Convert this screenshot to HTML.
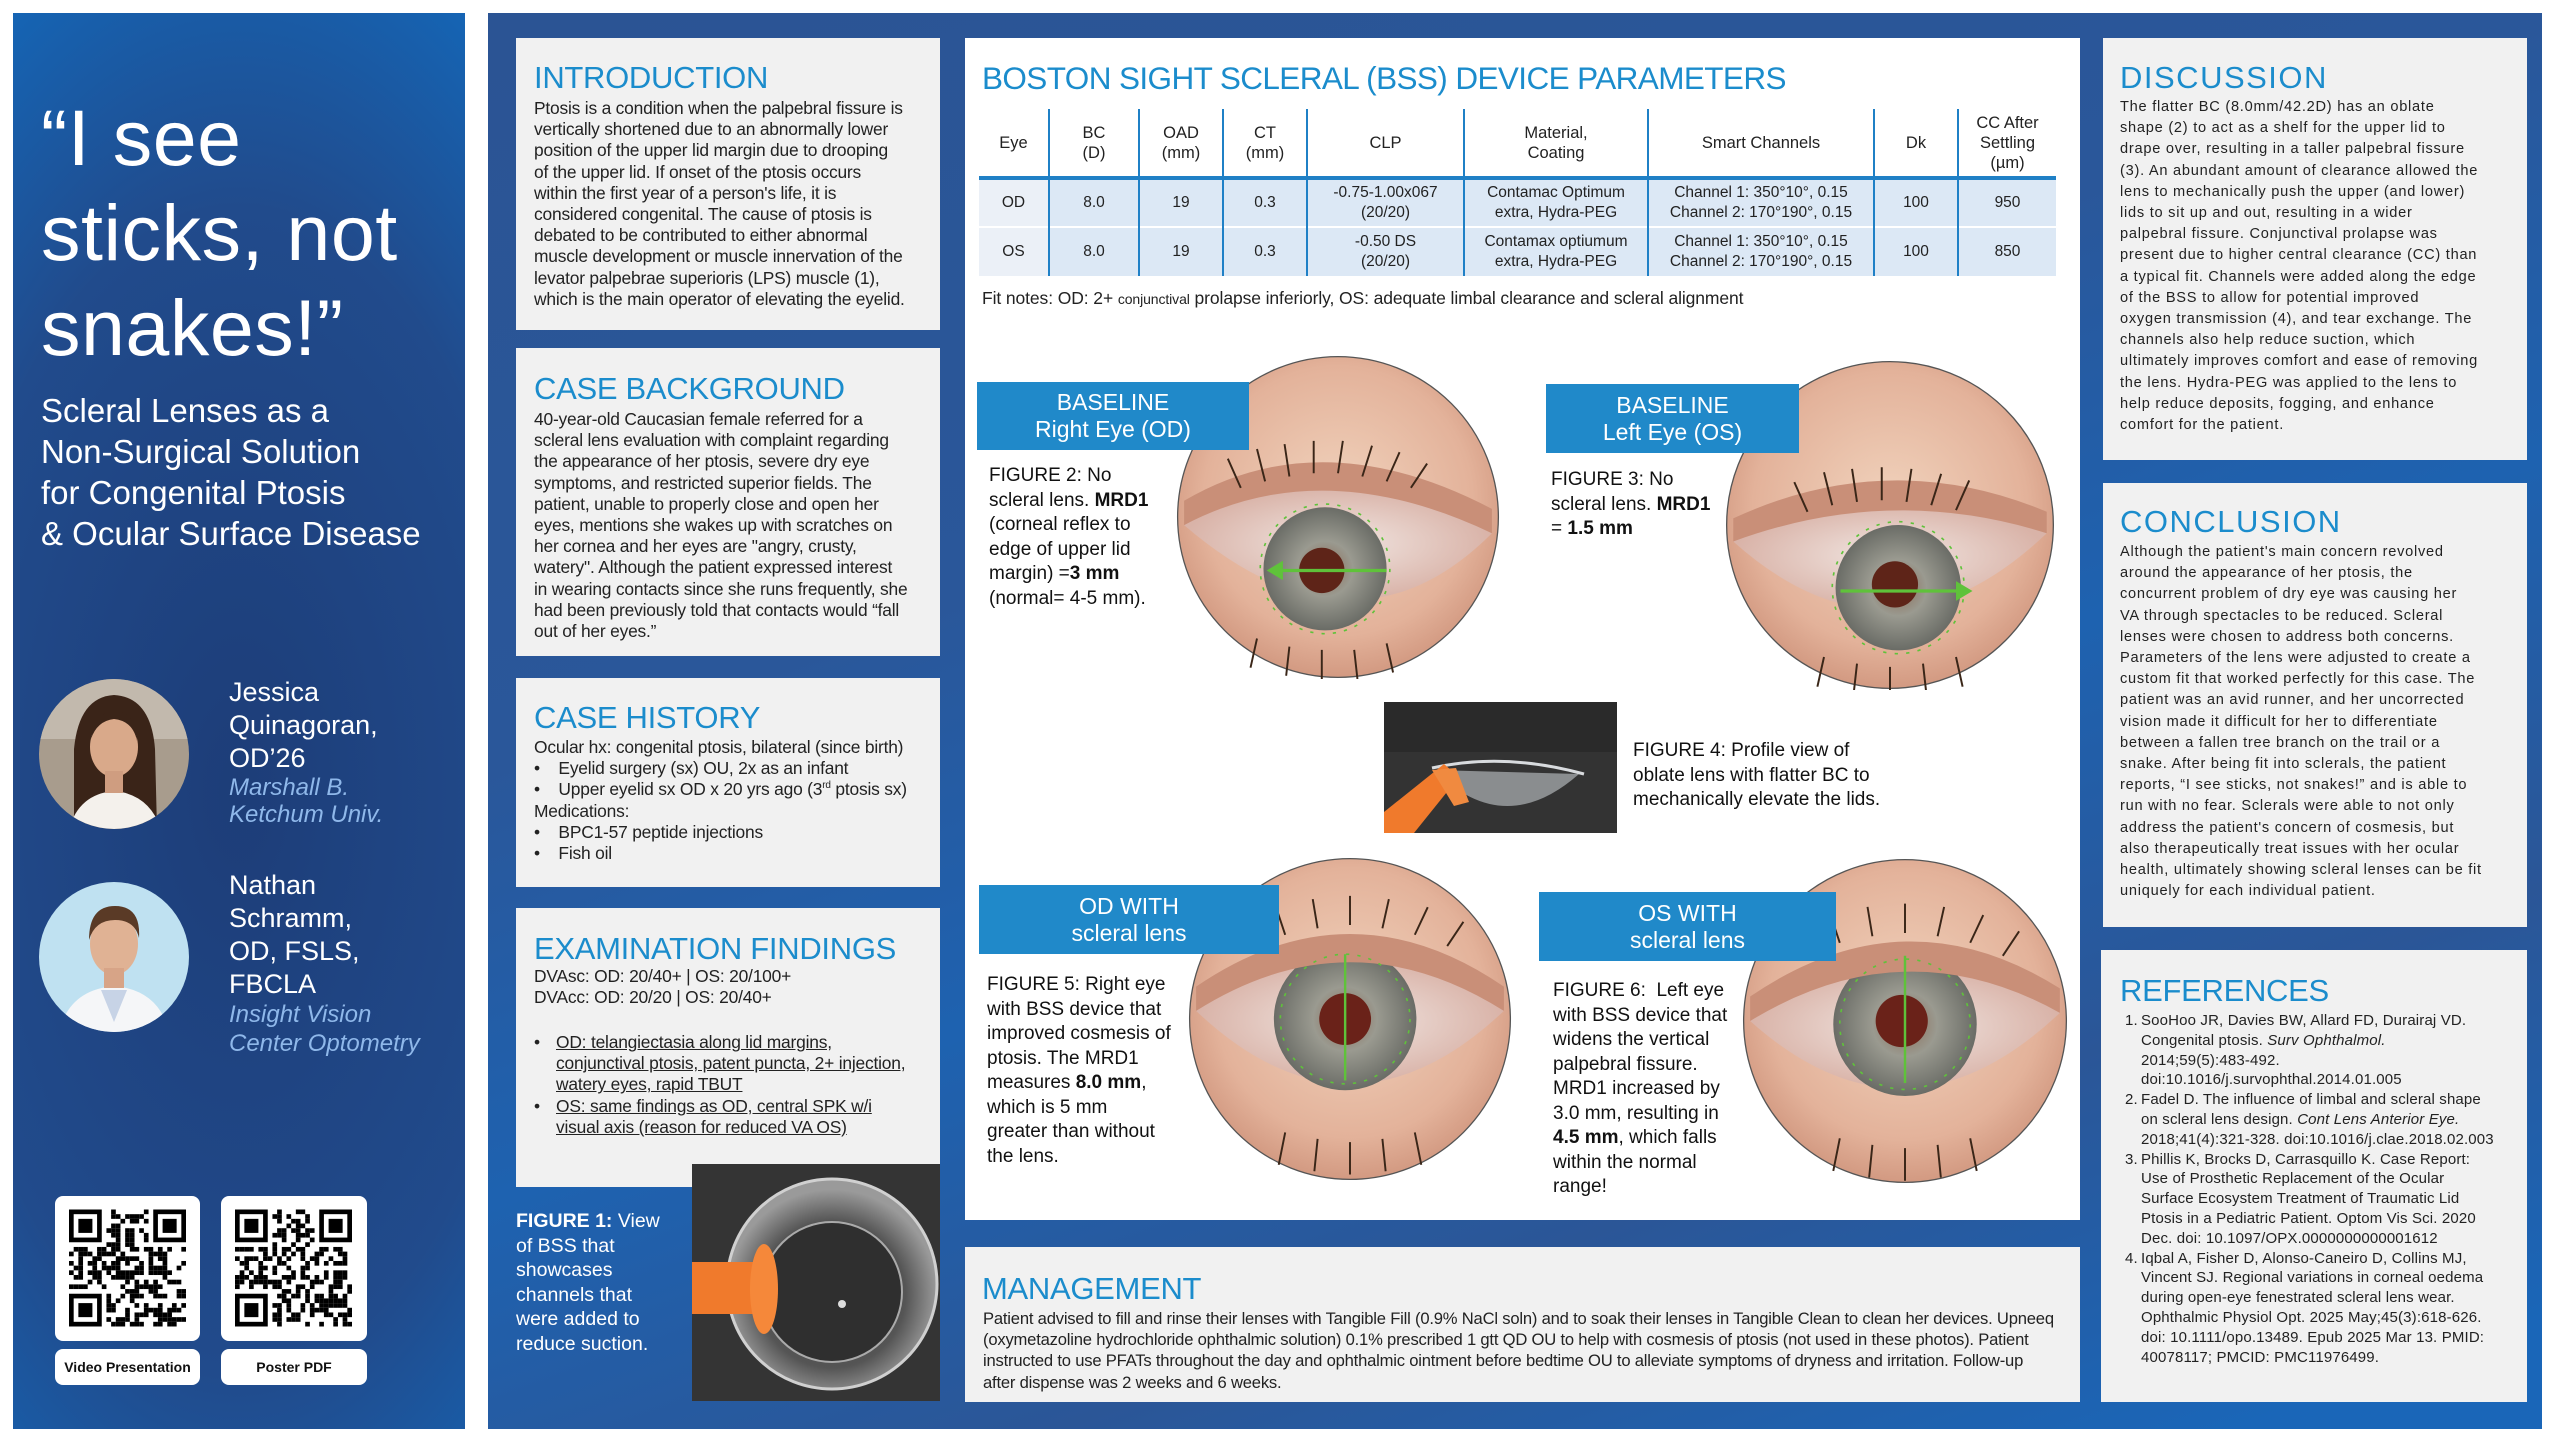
<!DOCTYPE html>
<html><head><meta charset="utf-8"><style>
*{margin:0;padding:0;box-sizing:border-box}
body{width:2560px;height:1440px;background:#fff;position:relative;overflow:hidden;font-family:"Liberation Sans",sans-serif;color:#222}
.a{position:absolute}
.box{position:absolute;background:#f1f1f1}
.h{position:absolute;color:#1b8ccc;font-size:31px;line-height:34px;white-space:nowrap;letter-spacing:-0.3px}
.t{position:absolute;white-space:nowrap;font-size:17.4px;line-height:21.2px;color:#222;letter-spacing:-0.2px}
.w{position:absolute;white-space:nowrap;color:#fff}
.lbl{position:absolute;background:#2089c9;color:#fff;text-align:center;font-size:23px;line-height:27px;display:flex;flex-direction:column;justify-content:center}
.fig{position:absolute;white-space:nowrap;font-size:19px;line-height:24.5px;color:#111}
table{border-collapse:collapse}
td,th{font-weight:normal;font-size:15.5px;line-height:20px;text-align:center;color:#222}
th{font-size:16.5px}
.ds{position:absolute;white-space:nowrap;font-size:14.6px;line-height:21.2px;letter-spacing:0.75px;color:#222}
.rf{position:absolute;white-space:nowrap;font-size:15px;line-height:19.8px;letter-spacing:0.15px;color:#222}
</style></head><body>

<!-- LEFT PANEL -->
<div class="a" style="left:13px;top:13px;width:452px;height:1416px;background:radial-gradient(ellipse 120% 75% at 50% 55%,#1d3d78 0%,#214b8c 55%,#1565b5 85%,#0b72c8 100%)"></div>
<div class="w" style="left:41px;top:90px;font-size:79px;line-height:95px;letter-spacing:0.5px">“I see<br>sticks, not<br>snakes!”</div>
<div class="w" style="left:41px;top:390px;font-size:33px;line-height:41px">Scleral Lenses as a<br>Non-Surgical Solution<br>for Congenital Ptosis<br>&amp; Ocular Surface Disease</div>

<svg class="a" style="left:39px;top:679px" width="150" height="150" viewBox="0 0 150 150">
<defs><clipPath id="c1"><circle cx="75" cy="75" r="75"/></clipPath></defs>
<g clip-path="url(#c1)"><rect width="150" height="150" fill="#a89c8d"/><rect y="0" width="150" height="60" fill="#c2b9ad"/>
<path d="M35 150 L35 70 Q40 18 75 16 Q112 18 116 70 L118 150Z" fill="#3a2418"/>
<path d="M30 150 Q40 115 75 112 Q110 115 122 150Z" fill="#f4f1ec"/>
<ellipse cx="75" cy="68" rx="24" ry="30" fill="#d9a98a"/><rect x="66" y="92" width="18" height="22" fill="#cf9d80"/>
<path d="M52 60 Q58 30 78 32 Q96 34 98 62 Q94 42 75 40 Q58 42 52 60Z" fill="#3a2418"/></g></svg>
<svg class="a" style="left:39px;top:882px" width="150" height="150" viewBox="0 0 150 150">
<defs><clipPath id="c2"><circle cx="75" cy="75" r="75"/></clipPath></defs>
<g clip-path="url(#c2)"><rect width="150" height="150" fill="#bfe1f1"/>
<path d="M20 150 Q30 108 75 104 Q120 108 130 150Z" fill="#f5f6f8"/><path d="M62 108 L75 140 L88 108Z" fill="#c7d3e6"/>
<ellipse cx="75" cy="62" rx="24" ry="31" fill="#e0b294"/><rect x="65" y="86" width="20" height="20" fill="#d7a487"/>
<path d="M50 58 Q50 24 76 24 Q102 24 100 56 Q96 38 76 38 Q56 38 50 58Z" fill="#5a3a26"/></g></svg>

<div class="w" style="left:229px;top:676px;font-size:27px;line-height:33px">Jessica<br>Quinagoran,<br>OD’26</div>
<div class="w" style="left:229px;top:774px;font-size:24px;line-height:27px;font-style:italic;color:#8fb8ea">Marshall B.<br>Ketchum Univ.</div>
<div class="w" style="left:229px;top:869px;font-size:27px;line-height:33px">Nathan<br>Schramm,<br>OD, FSLS,<br>FBCLA</div>
<div class="w" style="left:229px;top:1000px;font-size:24px;line-height:29px;font-style:italic;color:#8fb8ea">Insight Vision<br>Center Optometry</div>

<div class="a" style="left:55px;top:1196px;width:145px;height:145px;background:#fff;border-radius:8px"></div>
<div class="a" style="left:221px;top:1196px;width:146px;height:145px;background:#fff;border-radius:8px"></div>
<svg class="a" id="qr1" style="left:69px;top:1209px" width="117" height="118" viewBox="0 0 25 25"></svg>
<svg class="a" id="qr2" style="left:235px;top:1209px" width="117" height="118" viewBox="0 0 25 25"></svg>
<div class="a" style="left:55px;top:1349px;width:145px;height:36px;background:#fff;border-radius:8px;font-weight:bold;font-size:14px;line-height:36px;text-align:center;color:#111">Video Presentation</div>
<div class="a" style="left:221px;top:1349px;width:146px;height:36px;background:#fff;border-radius:8px;font-weight:bold;font-size:14px;line-height:36px;text-align:center;color:#111">Poster PDF</div>

<!-- MAIN PANEL -->
<div class="a" style="left:488px;top:13px;width:2054px;height:1416px;background:linear-gradient(160deg,#2b5494 0%,#2a579a 35%,#1e62b0 55%,#2b5697 75%,#1a66b8 95%)"></div>

<!-- Intro -->
<div class="box" style="left:516px;top:38px;width:424px;height:292px"></div>
<div class="h" style="left:534px;top:61px">INTRODUCTION</div>
<div class="t" style="left:534px;top:98px">Ptosis is a condition when the palpebral fissure is<br>vertically shortened due to an abnormally lower<br>position of the upper lid margin due to drooping<br>of the upper lid. If onset of the ptosis occurs<br>within the first year of a person's life, it is<br>considered congenital. The cause of ptosis is<br>debated to be contributed to either abnormal<br>muscle development or muscle innervation of the<br>levator palpebrae superioris (LPS) muscle (1),<br>which is the main operator of elevating the eyelid.</div>

<!-- Case background -->
<div class="box" style="left:516px;top:348px;width:424px;height:308px"></div>
<div class="h" style="left:534px;top:372px">CASE BACKGROUND</div>
<div class="t" style="left:534px;top:409px">40-year-old Caucasian female referred for a<br>scleral lens evaluation with complaint regarding<br>the appearance of her ptosis, severe dry eye<br>symptoms, and restricted superior fields. The<br>patient, unable to properly close and open her<br>eyes, mentions she wakes up with scratches on<br>her cornea and her eyes are "angry, crusty,<br>watery". Although the patient expressed interest<br>in wearing contacts since she runs frequently, she<br>had been previously told that contacts would “fall<br>out of her eyes.”</div>

<!-- Case history -->
<div class="box" style="left:516px;top:678px;width:424px;height:209px"></div>
<div class="h" style="left:534px;top:701px">CASE HISTORY</div>
<div class="t" style="left:534px;top:737px">Ocular hx: congenital ptosis, bilateral (since birth)<br>•&nbsp;&nbsp;&nbsp; Eyelid surgery (sx) OU, 2x as an infant<br>•&nbsp;&nbsp;&nbsp; Upper eyelid sx OD x 20 yrs ago (3<sup style="font-size:10px;line-height:0">rd</sup> ptosis sx)<br>Medications:<br>•&nbsp;&nbsp;&nbsp; BPC1-57 peptide injections<br>•&nbsp;&nbsp;&nbsp; Fish oil</div>

<!-- Exam -->
<div class="box" style="left:516px;top:908px;width:424px;height:279px"></div>
<div class="h" style="left:534px;top:932px">EXAMINATION FINDINGS</div>
<div class="t" style="left:534px;top:966px">DVAsc: OD: 20/40+ | OS: 20/100+<br>DVAcc: OD: 20/20 | OS: 20/40+</div>
<div class="t" style="left:534px;top:1032px">•</div>
<div class="t" style="left:556px;top:1032px;text-decoration:underline">OD: telangiectasia along lid margins,<br>conjunctival ptosis, patent puncta, 2+ injection,<br>watery eyes, rapid TBUT</div>
<div class="t" style="left:534px;top:1096px">•</div>
<div class="t" style="left:556px;top:1096px;text-decoration:underline">OS: same findings as OD, central SPK w/i<br>visual axis (reason for reduced VA OS)</div>

<!-- Figure 1 -->
<div class="w" style="left:516px;top:1209px;font-size:19.5px;line-height:24.6px"><b>FIGURE 1:</b> View<br>of BSS that<br>showcases<br>channels that<br>were added to<br>reduce suction.</div>
<svg class="a" style="left:692px;top:1164px" width="248" height="237" viewBox="0 0 248 237">
<defs><radialGradient id="lg1" cx="0.5" cy="0.55" r="0.5"><stop offset="0" stop-color="#3a3a3a"/><stop offset="0.7" stop-color="#555"/><stop offset="1" stop-color="#9a9a9a"/></radialGradient></defs>
<rect width="248" height="237" fill="#343434"/>
<circle cx="140" cy="120" r="105" fill="url(#lg1)" stroke="#d0d0d0" stroke-width="3"/>
<circle cx="140" cy="128" r="70" fill="#2f2f2f" stroke="#aaa" stroke-width="2"/>
<rect x="0" y="98" width="70" height="52" fill="#f07a2c"/>
<ellipse cx="72" cy="125" rx="14" ry="45" fill="#f5883a"/>
<circle cx="150" cy="140" r="4" fill="#ddd"/></svg>

<!-- CENTER WHITE PANEL -->
<div class="a" style="left:965px;top:38px;width:1115px;height:1182px;background:#fff"></div>
<div class="h" style="left:982px;top:61px;font-size:31.5px;letter-spacing:-0.6px">BOSTON SIGHT SCLERAL (BSS) DEVICE PARAMETERS</div>

<table class="a" style="left:979px;top:109px;width:1077px">
<colgroup><col style="width:70px"><col style="width:90px"><col style="width:84px"><col style="width:84px"><col style="width:157px"><col style="width:184px"><col style="width:226px"><col style="width:84px"><col style="width:98px"></colgroup>
<tr style="height:69px;border-bottom:4px solid #1f80c6">
<th>Eye</th><th style="border-left:2px solid #1f80c6">BC<br>(D)</th><th style="border-left:2px solid #1f80c6">OAD<br>(mm)</th><th style="border-left:2px solid #1f80c6">CT<br>(mm)</th><th style="border-left:2px solid #1f80c6">CLP</th><th style="border-left:2px solid #1f80c6">Material,<br>Coating</th><th style="border-left:2px solid #1f80c6">Smart Channels</th><th style="border-left:2px solid #1f80c6">Dk</th><th style="border-left:2px solid #1f80c6">CC After<br>Settling<br>(µm)</th></tr>
<tr style="height:49px;background:#dce8f5;border-bottom:2px solid #fff">
<td style="background:#ebf0f7">OD</td><td style="border-left:2px solid #1f80c6">8.0</td><td style="border-left:2px solid #1f80c6">19</td><td style="border-left:2px solid #1f80c6">0.3</td><td style="border-left:2px solid #1f80c6">-0.75-1.00x067<br>(20/20)</td><td style="border-left:2px solid #1f80c6">Contamac Optimum<br>extra, Hydra-PEG</td><td style="border-left:2px solid #1f80c6">Channel 1: 350°10°, 0.15<br>Channel 2: 170°190°, 0.15</td><td style="border-left:2px solid #1f80c6">100</td><td style="border-left:2px solid #1f80c6">950</td></tr>
<tr style="height:49px;background:#dce8f5">
<td style="background:#ebf0f7">OS</td><td style="border-left:2px solid #1f80c6">8.0</td><td style="border-left:2px solid #1f80c6">19</td><td style="border-left:2px solid #1f80c6">0.3</td><td style="border-left:2px solid #1f80c6">-0.50 DS<br>(20/20)</td><td style="border-left:2px solid #1f80c6">Contamax optiumum<br>extra, Hydra-PEG</td><td style="border-left:2px solid #1f80c6">Channel 1: 350°10°, 0.15<br>Channel 2: 170°190°, 0.15</td><td style="border-left:2px solid #1f80c6">100</td><td style="border-left:2px solid #1f80c6">850</td></tr>
</table>
<div class="t" style="left:982px;top:287px;font-size:17.5px;line-height:22px;letter-spacing:-0.1px">Fit notes: OD: 2+ <span style="font-size:14px">conjunctival</span> prolapse inferiorly, OS: adequate limbal clearance and scleral alignment</div>

<svg width="0" height="0" style="position:absolute"><defs>
<radialGradient id="skin" cx="0.5" cy="0.45" r="0.6"><stop offset="0" stop-color="#f1d3bd"/><stop offset="0.7" stop-color="#e3b29a"/><stop offset="1" stop-color="#cc9078"/></radialGradient>
<radialGradient id="iris" cx="0.5" cy="0.5" r="0.5"><stop offset="0" stop-color="#8a6a55"/><stop offset="0.45" stop-color="#9a9a90"/><stop offset="1" stop-color="#6a6c66"/></radialGradient>
<radialGradient id="scl" cx="0.5" cy="0.5" r="0.5"><stop offset="0" stop-color="#f1e6e2"/><stop offset="1" stop-color="#d9b3a8"/></radialGradient>
</defs></svg>

<!-- Fig 2 eye -->
<svg class="a" style="left:1176px;top:355px" width="324" height="324" viewBox="-100 -100 200 200">
<circle r="99" fill="url(#skin)" stroke="#555" stroke-width="0.8"/>
<path d="M-95 5 Q-10 -45 95 10 Q10 95 -95 5Z" fill="url(#scl)"/>
<circle cx="-8" cy="32" r="38" fill="url(#iris)"/><circle cx="-10" cy="33" r="14" fill="#5e2418"/>
<path d="M-95 5 Q-10 -40 95 10 L95 -5 Q-10 -60 -95 -10Z" fill="#c98f78"/>
<g stroke="#3a2618" stroke-width="1.2"><path d="M-60 -18 l-8 -18 M-45 -22 l-5 -20 M-30 -25 l-3 -20 M-15 -27 l0 -20 M0 -27 l3 -20 M15 -25 l6 -19 M30 -22 l8 -18 M45 -18 l10 -15 M-50 75 l-4 18 M-30 80 l-2 18 M-10 82 l0 18 M10 82 l2 18 M30 78 l4 18"/></g>
<path d="M-40 33 L30 33" stroke="#5fc23a" stroke-width="2"/><path d="M-44 33 l10 -6 v12z" fill="#5fc23a"/>
<circle cx="-8" cy="32" r="40" fill="none" stroke="#5fc23a" stroke-width="1" stroke-dasharray="2 5"/></svg>
<div class="lbl" style="left:977px;top:382px;width:272px;height:68px">BASELINE<br>Right Eye (OD)</div>
<div class="fig" style="left:989px;top:464px">FIGURE 2: No<br>scleral lens. <b>MRD1</b><br>(corneal reflex to<br>edge of upper lid<br>margin) =<b>3 mm</b><br>(normal= 4-5 mm).</div>

<!-- Fig 3 eye -->
<svg class="a" style="left:1725px;top:360px" width="330" height="330" viewBox="-100 -100 200 200">
<circle r="99" fill="url(#skin)" stroke="#555" stroke-width="0.8"/>
<path d="M-95 10 Q0 -35 95 5 Q0 95 -95 10Z" fill="url(#scl)"/>
<circle cx="5" cy="38" r="38" fill="url(#iris)"/><circle cx="3" cy="36" r="14" fill="#5e2418"/>
<path d="M-95 10 Q0 -25 95 5 L95 -8 Q0 -48 -95 -4Z" fill="#c98f78"/>
<g stroke="#3a2618" stroke-width="1.2"><path d="M-50 -8 l-8 -18 M-35 -12 l-5 -20 M-20 -14 l-3 -20 M-5 -15 l0 -20 M10 -14 l3 -20 M25 -12 l6 -19 M40 -9 l8 -18 M-40 80 l-4 18 M-20 84 l-2 18 M0 86 l0 18 M20 84 l2 18 M40 80 l4 18"/></g>
<path d="M-30 40 L45 40" stroke="#5fc23a" stroke-width="2"/><path d="M50 40 l-10 -6 v12z" fill="#5fc23a"/>
<circle cx="5" cy="38" r="40" fill="none" stroke="#5fc23a" stroke-width="1" stroke-dasharray="2 5"/></svg>
<div class="lbl" style="left:1546px;top:384px;width:253px;height:69px">BASELINE<br>Left Eye (OS)</div>
<div class="fig" style="left:1551px;top:468px">FIGURE 3: No<br>scleral lens. <b>MRD1</b><br>= <b>1.5 mm</b></div>

<!-- Fig 4 -->
<svg class="a" style="left:1384px;top:702px" width="233" height="131" viewBox="0 0 233 131">
<rect width="233" height="131" fill="#333"/><rect y="0" width="233" height="50" fill="#2a2a2a"/>
<path d="M50 68 Q120 138 195 72 Z" fill="#9a9da0" opacity="0.85"/>
<path d="M48 66 Q120 50 200 72" stroke="#d8dbde" stroke-width="3" fill="none"/>
<path d="M0 131 L0 110 L60 62 L75 75 L30 131Z" fill="#f07a2c"/>
<path d="M48 68 L72 66 L85 100 L70 104Z" fill="#f08a40"/></svg>
<div class="fig" style="left:1633px;top:739px">FIGURE 4: Profile view of<br>oblate lens with flatter BC to<br>mechanically elevate the lids.</div>

<!-- Fig 5 -->
<svg class="a" style="left:1188px;top:856px" width="324" height="326" viewBox="-100 -100 200 200">
<circle r="99" fill="url(#skin)" stroke="#555" stroke-width="0.8"/>
<path d="M-95 -5 Q0 -70 95 -5 Q0 85 -95 -5Z" fill="url(#scl)"/>
<circle cx="-3" cy="0" r="44" fill="url(#iris)"/><circle cx="-3" cy="0" r="16" fill="#6a2219"/>
<path d="M-95 -5 Q0 -65 95 -5 L95 -20 Q0 -85 -95 -20Z" fill="#c98f78"/>
<g stroke="#3a2618" stroke-width="1.2"><path d="M-60 -45 l-10 -16 M-40 -52 l-6 -18 M-20 -56 l-3 -18 M0 -58 l0 -18 M20 -56 l4 -18 M40 -52 l8 -17 M60 -45 l10 -15 M-40 70 l-4 20 M-20 74 l-2 20 M0 76 l0 20 M20 74 l2 20 M40 70 l4 20"/></g>
<path d="M-3 -40 L-3 38" stroke="#5fc23a" stroke-width="1.5"/><circle cx="-3" cy="0" r="40" fill="none" stroke="#5fc23a" stroke-width="1" stroke-dasharray="2 5"/></svg>
<div class="lbl" style="left:979px;top:885px;width:300px;height:69px">OD WITH<br>scleral lens</div>
<div class="fig" style="left:987px;top:973px">FIGURE 5: Right eye<br>with BSS device that<br>improved cosmesis of<br>ptosis. The MRD1<br>measures <b>8.0 mm</b>,<br>which is 5 mm<br>greater than without<br>the lens.</div>

<!-- Fig 6 -->
<svg class="a" style="left:1742px;top:855px" width="326" height="332" viewBox="-100 -100 200 200">
<circle r="99" fill="url(#skin)" stroke="#555" stroke-width="0.8"/>
<path d="M-95 0 Q0 -65 95 -5 Q0 85 -95 0Z" fill="url(#scl)"/>
<circle cx="0" cy="2" r="44" fill="url(#iris)"/><circle cx="-2" cy="0" r="16" fill="#6a2219"/>
<path d="M-95 0 Q0 -58 95 -5 L95 -20 Q0 -80 -95 -15Z" fill="#c98f78"/>
<g stroke="#3a2618" stroke-width="1.2"><path d="M-60 -40 l-10 -16 M-40 -48 l-6 -18 M-20 -52 l-3 -18 M0 -54 l0 -18 M20 -52 l4 -18 M40 -48 l8 -17 M60 -40 l10 -15 M-40 72 l-4 20 M-20 76 l-2 20 M0 78 l0 20 M20 76 l2 20 M40 72 l4 20"/></g>
<path d="M0 -40 L0 38" stroke="#5fc23a" stroke-width="1.5"/><circle cx="0" cy="2" r="40" fill="none" stroke="#5fc23a" stroke-width="1" stroke-dasharray="2 5"/></svg>
<div class="lbl" style="left:1539px;top:892px;width:297px;height:69px">OS WITH<br>scleral lens</div>
<div class="fig" style="left:1553px;top:979px">FIGURE 6:&nbsp; Left eye<br>with BSS device that<br>widens the vertical<br>palpebral fissure.<br>MRD1 increased by<br>3.0 mm, resulting in<br><b>4.5 mm</b>, which falls<br>within the normal<br>range!</div>

<!-- Management -->
<div class="box" style="left:965px;top:1247px;width:1115px;height:155px"></div>
<div class="h" style="left:982px;top:1272px">MANAGEMENT</div>
<div class="t" style="left:983px;top:1308px;font-size:16.6px;letter-spacing:-0.2px">Patient advised to fill and rinse their lenses with Tangible Fill (0.9% NaCl soln) and to soak their lenses in Tangible Clean to clean her devices. Upneeq<br>(oxymetazoline hydrochloride ophthalmic solution) 0.1% prescribed 1 gtt QD OU to help with cosmesis of ptosis (not used in these photos). Patient<br>instructed to use PFATs throughout the day and ophthalmic ointment before bedtime OU to alleviate symptoms of dryness and irritation. Follow-up<br>after dispense was 2 weeks and 6 weeks.</div>

<!-- Discussion -->
<div class="box" style="left:2103px;top:38px;width:424px;height:422px"></div>
<div class="h" style="left:2120px;top:61px;letter-spacing:1.5px">DISCUSSION</div>
<div class="ds" style="left:2120px;top:97px">The flatter BC (8.0mm/42.2D) has an oblate<br>shape (2) to act as a shelf for the upper lid to<br>drape over, resulting in a taller palpebral fissure<br>(3). An abundant amount of clearance allowed the<br>lens to mechanically push the upper (and lower)<br>lids to sit up and out, resulting in a wider<br>palpebral fissure. Conjunctival prolapse was<br>present due to higher central clearance (CC) than<br>a typical fit. Channels were added along the edge<br>of the BSS to allow for potential improved<br>oxygen transmission (4), and tear exchange. The<br>channels also help reduce suction, which<br>ultimately improves comfort and ease of removing<br>the lens. Hydra-PEG was applied to the lens to<br>help reduce deposits, fogging, and enhance<br>comfort for the patient.</div>

<!-- Conclusion -->
<div class="box" style="left:2103px;top:483px;width:424px;height:444px"></div>
<div class="h" style="left:2120px;top:505px;letter-spacing:1.5px">CONCLUSION</div>
<div class="ds" style="left:2120px;top:542px">Although the patient's main concern revolved<br>around the appearance of her ptosis, the<br>concurrent problem of dry eye was causing her<br>VA through spectacles to be reduced. Scleral<br>lenses were chosen to address both concerns.<br>Parameters of the lens were adjusted to create a<br>custom fit that worked perfectly for this case. The<br>patient was an avid runner, and her uncorrected<br>vision made it difficult for her to differentiate<br>between a fallen tree branch on the trail or a<br>snake. After being fit into sclerals, the patient<br>reports, “I see sticks, not snakes!” and is able to<br>run with no fear. Sclerals were able to not only<br>address the patient's concern of cosmesis, but<br>also therapeutically treat issues with her ocular<br>health, ultimately showing scleral lenses can be fit<br>uniquely for each individual patient.</div>

<!-- References -->
<div class="box" style="left:2101px;top:950px;width:426px;height:452px"></div>
<div class="h" style="left:2120px;top:974px">REFERENCES</div>
<div class="rf" style="left:2125px;top:1011px">1.<br><br><br><br>2.<br><br><br>3.<br><br><br><br><br>4.</div>
<div class="rf" style="left:2141px;top:1011px">SooHoo JR, Davies BW, Allard FD, Durairaj VD.<br>Congenital ptosis. <i>Surv Ophthalmol.</i><br>2014;59(5):483-492.<br>doi:10.1016/j.survophthal.2014.01.005<br>Fadel D. The influence of limbal and scleral shape<br>on scleral lens design. <i>Cont Lens Anterior Eye.</i><br>2018;41(4):321-328. doi:10.1016/j.clae.2018.02.003<br>Phillis K, Brocks D, Carrasquillo K. Case Report:<br>Use of Prosthetic Replacement of the Ocular<br>Surface Ecosystem Treatment of Traumatic Lid<br>Ptosis in a Pediatric Patient. Optom Vis Sci. 2020<br>Dec. doi: 10.1097/OPX.0000000000001612<br>Iqbal A, Fisher D, Alonso-Caneiro D, Collins MJ,<br>Vincent SJ. Regional variations in corneal oedema<br>during open-eye fenestrated scleral lens wear.<br>Ophthalmic Physiol Opt. 2025 May;45(3):618-626.<br>doi: 10.1111/opo.13489. Epub 2025 Mar 13. PMID:<br>40078117; PMCID: PMC11976499.</div>

<script>
function qr(id,seed){var s=seed,svg=document.getElementById(id),h='';
function r(){s=(s*1103515245+12345)%2147483648;return s/2147483648;}
function f(x,y){h+='<rect x="'+x+'" y="'+y+'" width="7" height="7" fill="#000"/><rect x="'+(x+1)+'" y="'+(y+1)+'" width="5" height="5" fill="#fff"/><rect x="'+(x+2)+'" y="'+(y+2)+'" width="3" height="3" fill="#000"/>';}
for(var y=0;y<25;y++)for(var x=0;x<25;x++){if((x<8&&y<8)||(x>16&&y<8)||(x<8&&y>16))continue;if(r()<0.5)h+='<rect x="'+x+'" y="'+y+'" width="1" height="1" fill="#000"/>';}
f(0,0);f(18,0);f(0,18);svg.innerHTML=h;}
qr('qr1',7);qr('qr2',91);
</script>
</body></html>
